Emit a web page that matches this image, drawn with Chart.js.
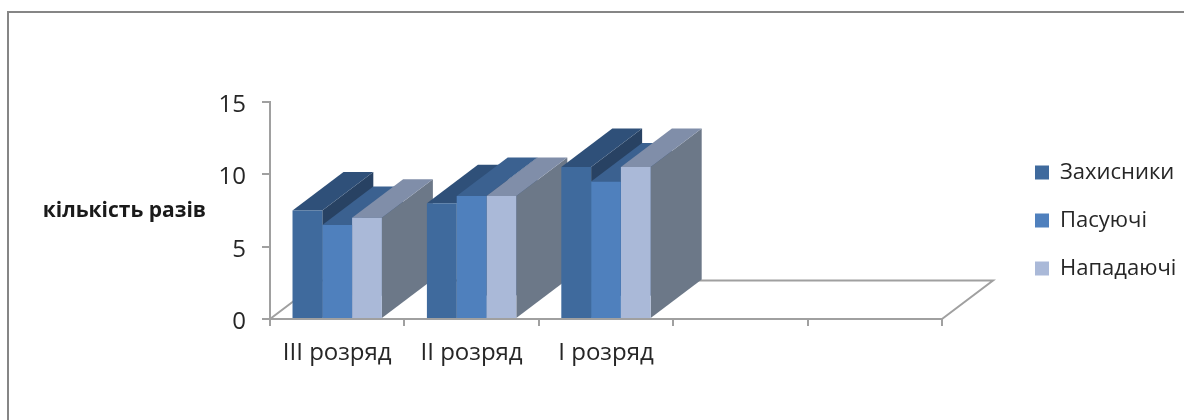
<!DOCTYPE html>
<html lang="uk">
<head>
<meta charset="utf-8">
<title>кількість разів</title>
<script src="https://cdn.jsdelivr.net/npm/chart.js"></script>
<style>
    html, body { margin: 0; padding: 0; background: #fff; overflow: hidden; }
    #wrap { position: relative; width: 1184px; height: 420px; overflow: hidden; }
    #frame { position: absolute; left: 7px; top: 11px; width: 1200px; height: 440px; border: 2px solid #868686; }
    #chart { position: absolute; left: 0; top: 0; }
</style>
</head>
<body>
<div id="wrap">
    <div id="frame"></div>
    <canvas id="chart" width="1184" height="420"></canvas>
</div>
<script>
const categories = ['III розряд', 'II розряд', 'I розряд', '', ''];
const defenders = [7.5, 8, 10.5, null, null];
const passers = [6.5, 8.5, 9.5, null, null];
const attackers = [7, 8.5, 10.5, null, null];
const yTicks = [0, 5, 10, 15];
const yAxisLabel = 'кількість разів';

const FONT = '"Open Sans", sans-serif';
const AXIS_COLOR = '#a0a0a0';
const DEPTH_X = 51;
const DEPTH_Y = 38.5;

// front, top and side shades for each series
const shades = [
    { front: '#3f6a9d', top: '#2f5079', side: '#284263' },
    { front: '#4f80bd', top: '#3b6190', side: '#324f72' },
    { front: '#aab9d8', top: '#808ea9', side: '#6c7888' }
];

function face(ctx, points, color) {
    ctx.fillStyle = color;
    ctx.beginPath();
    points.forEach(([x, y], i) => i ? ctx.lineTo(x, y) : ctx.moveTo(x, y));
    ctx.closePath();
    ctx.fill();
}

// empty scale used only to reserve space beside the plot
function gutter(position, size) {
    return {
        type: 'linear',
        position,
        min: 0,
        max: 1,
        afterFit(scale) {
            if (scale.isHorizontal()) scale.height = size;
            else scale.width = size;
        },
        grid: { display: false },
        border: { display: false },
        ticks: { display: false }
    };
}

// Floor, box sides and the horizontal axis caption
const bars3d = {
    id: 'bars3d',
    beforeDatasetsDraw(chart) {
        const { ctx, chartArea: area } = chart;
        ctx.save();

        // floor outline behind the bars
        ctx.strokeStyle = AXIS_COLOR;
        ctx.lineWidth = 2;
        ctx.beginPath();
        ctx.moveTo(area.left, area.bottom);
        ctx.lineTo(area.left + DEPTH_X, area.bottom - DEPTH_Y);
        ctx.lineTo(area.right + DEPTH_X, area.bottom - DEPTH_Y);
        ctx.lineTo(area.right, area.bottom);
        ctx.stroke();

        // boxes go left to right so later ones overlap earlier sides
        categories.forEach((_, c) => {
            chart.data.datasets.forEach((ds, s) => {
                const bar = chart.getDatasetMeta(s).data[c];
                if (ds.data[c] == null) return;
                const l = bar.x - bar.width / 2;
                const r = bar.x + bar.width / 2;
                const t = bar.y;
                const b = bar.base;
                face(ctx, [[r, t], [r + DEPTH_X, t - DEPTH_Y], [r + DEPTH_X, b - DEPTH_Y], [r, b]], shades[s].side);
                face(ctx, [[l, t], [l + DEPTH_X, t - DEPTH_Y], [r + DEPTH_X, t - DEPTH_Y], [r, t]], shades[s].top);
            });
        });
        ctx.restore();
    },
    afterDraw(chart) {
        const { ctx, chartArea: area } = chart;
        ctx.save();
        ctx.font = 'bold 21px ' + FONT;
        ctx.fillStyle = '#1a1a1a';
        ctx.textAlign = 'right';
        ctx.textBaseline = 'middle';
        ctx.fillText(yAxisLabel, area.left - 64, 211);
        ctx.restore();
    }
};

new Chart(document.getElementById('chart'), {
    type: 'bar',
    data: {
        labels: categories,
        datasets: [
            { label: 'Захисники', data: defenders, backgroundColor: shades[0].front },
            { label: 'Пасуючі', data: passers, backgroundColor: shades[1].front },
            { label: 'Нападаючі', data: attackers, backgroundColor: shades[2].front }
        ]
    },
    options: {
        responsive: false,
        animation: false,
        layout: { padding: { top: 21, bottom: 0, left: 0, right: 0 } },
        datasets: { bar: { categoryPercentage: 0.665, barPercentage: 1 } },
        scales: {
            x: {
                afterFit(scale) { scale.height = 101; },
                border: { color: AXIS_COLOR, width: 2 },
                grid: { color: AXIS_COLOR, lineWidth: 2, drawOnChartArea: false, tickLength: 7 },
                ticks: {
                    color: '#262626',
                    font: { family: FONT, size: 24 },
                    padding: 13,
                    maxRotation: 0
                }
            },
            y: {
                min: 0,
                max: 15,
                afterFit(scale) { scale.width = 270; },
                afterBuildTicks(scale) { scale.ticks = yTicks.map(value => ({ value })); },
                border: { color: AXIS_COLOR, width: 2 },
                grid: { color: AXIS_COLOR, lineWidth: 2, drawOnChartArea: false, tickLength: 8 },
                ticks: { color: '#262626', font: { family: FONT, size: 24 }, padding: 16, labelOffset: 3 }
            },
            gutterTop: gutter('top', 81),
            gutterRight: gutter('right', 67)
        },
        plugins: {
            legend: {
                position: 'right',
                maxWidth: 175,
                labels: {
                    color: '#262626',
                    boxWidth: 14,
                    boxHeight: 14,
                    padding: 26,
                    font: { family: FONT, size: 22 }
                }
            },
            tooltip: { enabled: false }
        }
    },
    plugins: [bars3d]
});
</script>
</body>
</html>
